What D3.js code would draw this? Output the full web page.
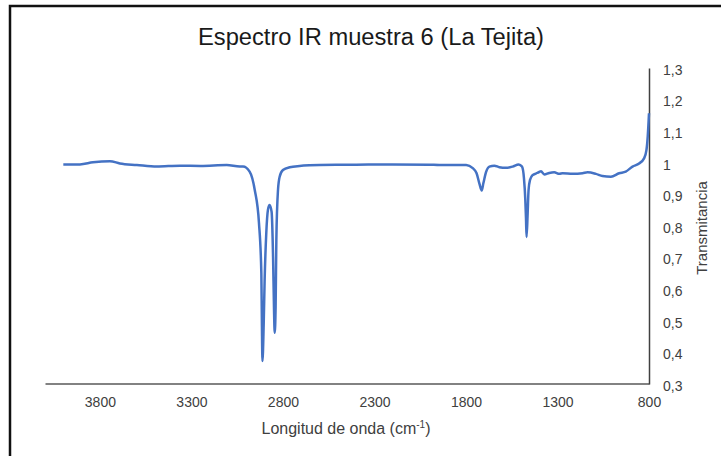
<!DOCTYPE html>
<html>
<head>
<meta charset="utf-8">
<script src="https://cdn.jsdelivr.net/npm/d3@7"></script>
<style>
  html, body { margin: 0; padding: 0; background: #fff; }
  svg { display: block; }
</style>
</head>
<body>
<svg id="chart" width="721" height="456"></svg>
<script>
// ---- data ----
const wavenumbers = [4000, 3909, 3838, 3745, 3691, 3598, 3489, 3363, 3250, 3107, 3036,
  3018, 2982, 2954, 2931, 2918, 2915, 2912, 2905, 2900, 2891, 2882, 2873, 2862, 2854,
  2849, 2845, 2840, 2836, 2827, 2818, 2800, 2763, 2709, 2654, 2600, 2400, 2200, 2000,
  1945, 1799, 1763, 1742, 1727, 1714, 1705, 1690, 1672, 1645, 1618, 1581, 1545, 1512,
  1494, 1483, 1476, 1472, 1469, 1463, 1458, 1450, 1436, 1418, 1400, 1390, 1372, 1345,
  1318, 1290, 1272, 1218, 1163, 1136, 1090, 1054, 1008, 963, 927, 890, 854, 827, 814,
  807, 800];
const transmittance = [0.995, 0.995, 1.0016, 1.005, 0.998, 0.993, 0.988, 0.991, 0.990, 0.993, 0.988,
  0.988, 0.972, 0.914, 0.81, 0.651, 0.493, 0.3725, 0.493, 0.629, 0.778, 0.851, 0.8665, 0.845, 0.703,
  0.544, 0.462, 0.544, 0.756, 0.914, 0.956, 0.977, 0.986, 0.990, 0.992, 0.993, 0.994, 0.995, 0.994,
  0.993, 0.993, 0.983, 0.967, 0.935, 0.912, 0.935, 0.971, 0.988, 0.991, 0.986, 0.984, 0.988, 0.995,
  0.988, 0.95, 0.886, 0.823, 0.765, 0.84, 0.914, 0.946, 0.961, 0.966, 0.971, 0.973, 0.963, 0.968,
  0.970, 0.965, 0.967, 0.965, 0.967, 0.970, 0.965, 0.958, 0.956, 0.967, 0.972, 0.988, 0.998, 1.014, 1.04,
  1.083, 1.157];
const xTicks = [3800, 3300, 2800, 2300, 1800, 1300, 800];
const yTicks = [0.3, 0.4, 0.5, 0.6, 0.7, 0.8, 0.9, 1.0, 1.1, 1.2, 1.3];
const titleText = "Espectro IR muestra 6 (La Tejita)";
const yLabel = "Transmitancia";

// ---- layout ----
const svg = d3.select("#chart");
const mLeft = 45, mRight = 649, mTop = 68, mBottom = 384;
const FONT = "Liberation Sans, Arial, sans-serif";

const x = d3.scaleLinear().domain([4100, 800]).range([mLeft, mRight]);
const y = d3.scaleLinear().domain([0.3, 1.3]).range([mBottom, mTop]);

// outer frame
svg.append("rect")
  .attr("x", 10).attr("y", 6).attr("width", 730).attr("height", 470)
  .attr("fill", "none").attr("stroke", "#111").attr("stroke-width", 2.5);

// title
svg.append("text")
  .attr("x", 371).attr("y", 45)
  .attr("text-anchor", "middle")
  .attr("font-family", FONT)
  .attr("font-size", 23)
  .attr("textLength", 346)
  .attr("lengthAdjust", "spacingAndGlyphs")
  .attr("fill", "#1a1a1a")
  .text(titleText);

// x axis
const fmt = d => String(d).replace(".", ",");
const xAxis = d3.axisBottom(x).tickValues(xTicks).tickSize(0).tickPadding(14).tickFormat(d3.format("d"));
const gx = svg.append("g").attr("transform", `translate(0,${mBottom - 0.5})`).call(xAxis);
gx.select(".domain").attr("stroke", "#595959").attr("stroke-width", 1.5);
gx.selectAll("text")
  .attr("font-family", FONT)
  .attr("font-size", 14).attr("fill", "#404040");

// y axis (right)
const yAxis = d3.axisRight(y).tickValues(yTicks).tickSize(0).tickPadding(14)
  .tickFormat(d => fmt(+d.toFixed(1)));
const gy = svg.append("g").attr("transform", `translate(${mRight},0)`).call(yAxis);
gy.select(".domain").attr("stroke", "#404040").attr("stroke-width", 1.5);
gy.selectAll("text")
  .attr("font-family", FONT)
  .attr("font-size", 14).attr("fill", "#404040")
  .attr("dy", "0.45em");

// axis titles
const xl = svg.append("text")
  .attr("x", 346).attr("y", 434)
  .attr("text-anchor", "middle")
  .attr("font-family", FONT)
  .attr("font-size", 16).attr("fill", "#404040");
xl.append("tspan").text("Longitud de onda (cm");
xl.append("tspan").attr("dy", -6).attr("font-size", 10).text("-1");
xl.append("tspan").attr("dy", 6).text(")");

svg.append("text")
  .attr("transform", `translate(707,228) rotate(-90)`)
  .attr("text-anchor", "middle")
  .attr("font-family", FONT)
  .attr("font-size", 15).attr("fill", "#404040")
  .text(yLabel);

// spectrum line
const data = wavenumbers.map((w, i) => ({ w, t: transmittance[i] }));
const path = d3.line().x(d => x(d.w)).y(d => y(d.t)).curve(d3.curveMonotoneX);
svg.append("path")
  .datum(data)
  .attr("d", path)
  .attr("fill", "none")
  .attr("stroke", "#4472C4")
  .attr("stroke-width", 2.5)
  .attr("stroke-linejoin", "round");
</script>
</body>
</html>
